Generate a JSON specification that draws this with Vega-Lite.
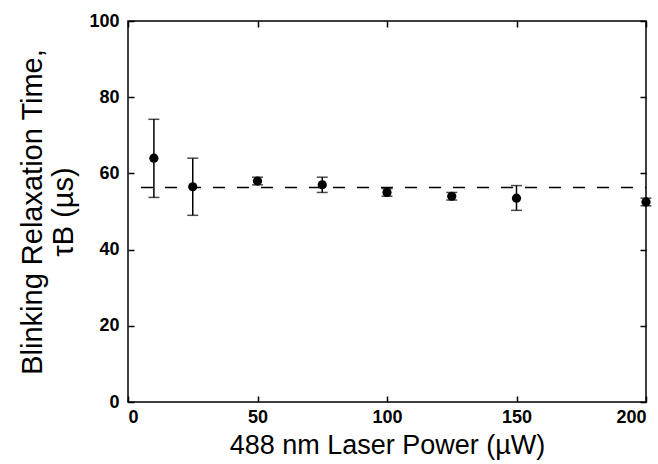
{
  "$schema": "https://vega.github.io/schema/vega-lite/v6.json",
  "width": 518,
  "height": 381,
  "autosize": {"type": "none"},
  "padding": {"left": 128, "top": 21, "right": 12, "bottom": 61},
  "background": "white",
  "config": {
    "view": {"stroke": "black", "strokeWidth": 1.5},
    "font": "Liberation Sans",
    "axis": {
      "grid": false,
      "domain": false,
      "tickColor": "black",
      "tickSize": -6,
      "tickWidth": 1.5,
      "labelColor": "black",
      "labelFont": "Liberation Sans",
      "labelFontWeight": "bold",
      "labelFontSize": 18,
      "titleColor": "black",
      "titleFont": "Liberation Sans",
      "titleFontWeight": "normal",
      "titleFontSize": 27
    }
  },
  "datasets": {
    "pts": [
      {"power": 10, "tau": 64, "lo": 53.7, "hi": 74.2},
      {"power": 25, "tau": 56.5, "lo": 49, "hi": 64},
      {"power": 50, "tau": 58, "lo": 57, "hi": 59},
      {"power": 75, "tau": 57, "lo": 55, "hi": 59},
      {"power": 100, "tau": 55, "lo": 54, "hi": 56},
      {"power": 125, "tau": 54, "lo": 53, "hi": 55},
      {"power": 150, "tau": 53.5, "lo": 50.3, "hi": 56.8},
      {"power": 200, "tau": 52.5, "lo": 51.5, "hi": 53.5}
    ],
    "fit": [
      {"x0": 5, "x1": 200, "y": 56.3}
    ]
  },
  "resolve": {"axis": {"x": "independent", "y": "independent"}},
  "layer": [
    {
      "data": {"name": "fit"},
      "mark": {"type": "rule", "color": "black", "strokeWidth": 1.5, "strokeDash": [12, 12]},
      "encoding": {
        "x": {"field": "x0", "type": "quantitative", "scale": {"domain": [0, 200], "nice": false}, "axis": null},
        "x2": {"field": "x1"},
        "y": {"field": "y", "type": "quantitative", "scale": {"domain": [0, 100], "nice": false}, "axis": null}
      }
    },
    {
      "data": {"name": "pts"},
      "mark": {"type": "rule", "color": "black", "strokeWidth": 1.5},
      "encoding": {
        "x": {"field": "power", "type": "quantitative", "scale": {"domain": [0, 200], "nice": false},
              "axis": {"orient": "top", "values": [0, 50, 100, 150, 200], "labels": false, "title": null}},
        "y": {"field": "lo", "type": "quantitative", "scale": {"domain": [0, 100], "nice": false},
              "axis": {"orient": "right", "values": [0, 20, 40, 60, 80, 100], "labels": false, "title": null}},
        "y2": {"field": "hi"}
      }
    },
    {
      "data": {"name": "pts"},
      "mark": {"type": "tick", "orient": "horizontal", "color": "black", "size": 11, "thickness": 1.5},
      "encoding": {
        "x": {"field": "power", "type": "quantitative", "axis": null},
        "y": {"field": "lo", "type": "quantitative", "axis": null}
      }
    },
    {
      "data": {"name": "pts"},
      "mark": {"type": "tick", "orient": "horizontal", "color": "black", "size": 11, "thickness": 1.5},
      "encoding": {
        "x": {"field": "power", "type": "quantitative", "axis": null},
        "y": {"field": "hi", "type": "quantitative", "axis": null}
      }
    },
    {
      "data": {"name": "pts"},
      "mark": {"type": "point", "filled": true, "shape": "circle", "color": "black", "size": 85, "opacity": 1},
      "encoding": {
        "x": {"field": "power", "type": "quantitative",
              "axis": {"orient": "bottom", "values": [0, 50, 100, 150, 200], "labelPadding": 12, "title": "488 nm Laser Power (µW)", "titlePadding": 6}},
        "y": {"field": "tau", "type": "quantitative",
              "axis": {"orient": "left", "values": [0, 20, 40, 60, 80, 100], "labelPadding": 15, "title": ["Blinking Relaxation Time,", "τB (µs)"], "titleFontSize": 29, "titlePadding": 10}}
      }
    }
  ]
}
